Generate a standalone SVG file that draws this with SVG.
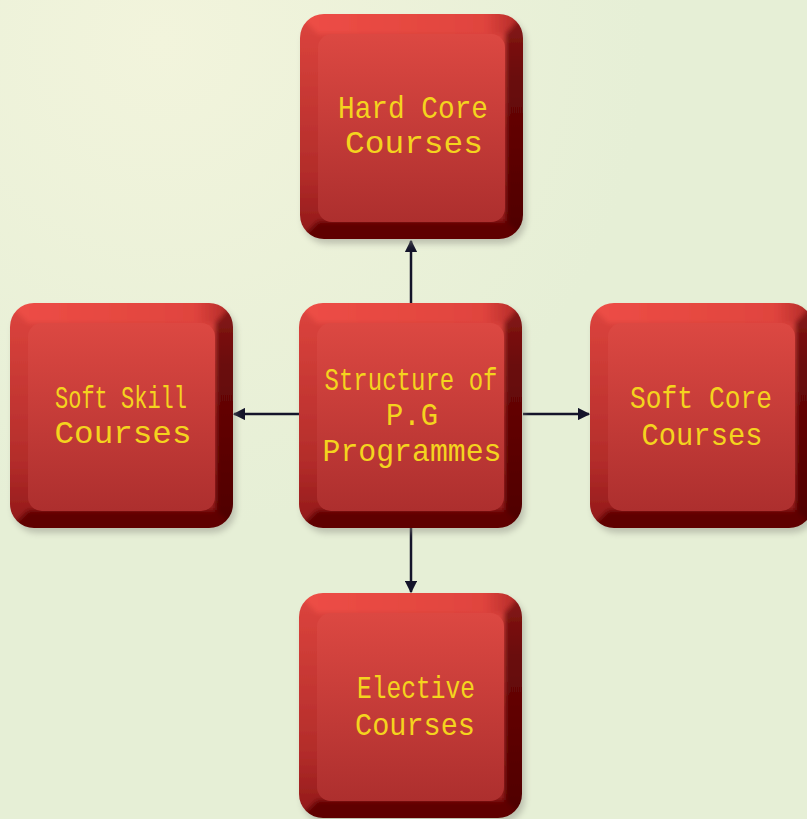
<svg xmlns="http://www.w3.org/2000/svg" xmlns:xlink="http://www.w3.org/1999/xlink" width="807" height="819" viewBox="0 0 807 819">
<style>
.lbl{font-family:"Liberation Mono","DejaVu Sans Mono",monospace;font-size:32px;fill:#f4d41e;text-anchor:middle}
.conn{stroke:#14142a;stroke-width:2.5;fill:none}
</style>
<defs>
<radialGradient id="bg" cx="0.2" cy="0.05" r="0.6">
<stop offset="0" stop-color="#f2f4dc"/>
<stop offset="1" stop-color="#e6efd6"/>
</radialGradient>
<linearGradient id="leftG" x1="0" y1="0" x2="0" y2="1">
<stop offset="0" stop-color="#e0463f"/>
<stop offset="0.7" stop-color="#b22c2a"/>
<stop offset="1" stop-color="#8a1414"/>
</linearGradient>
<linearGradient id="topG" x1="0" y1="0" x2="1" y2="0">
<stop offset="0" stop-color="#ee4e46"/>
<stop offset="0.8" stop-color="#e0443e"/>
<stop offset="1" stop-color="#a0201e"/>
</linearGradient>
<linearGradient id="rightG" x1="0" y1="0" x2="0" y2="1">
<stop offset="0" stop-color="#8c1c1a"/>
<stop offset="0.3" stop-color="#6a0808"/>
<stop offset="1" stop-color="#4c0000"/>
</linearGradient>
<linearGradient id="faceG" x1="0" y1="0" x2="0" y2="1">
<stop offset="0" stop-color="#dc4842"/>
<stop offset="1" stop-color="#ad2f2e"/>
</linearGradient>
<clipPath id="capClip"><rect x="0" y="0" width="223" height="225" rx="24"/></clipPath>
<filter id="soft" x="-10%" y="-10%" width="120%" height="120%"><feGaussianBlur stdDeviation="2.5"/></filter>
<filter id="shadow" x="-10%" y="-10%" width="130%" height="130%"><feGaussianBlur stdDeviation="3"/></filter>
<marker id="arr" viewBox="0 0 10 10" refX="9" refY="5" markerWidth="5" markerHeight="5" orient="auto" markerUnits="strokeWidth">
<path d="M0,0 L10,5 L0,10 z" fill="#14142a"/>
</marker>
<g id="cap">
<rect x="3" y="5" width="223" height="225" rx="24" fill="#8a8a80" opacity="0.45" filter="url(#shadow)"/>
<g clip-path="url(#capClip)">
<g filter="url(#soft)">
<rect x="-10" y="-10" width="245" height="245" fill="url(#leftG)"/>
<polygon points="-10,-10 233,-10 205,20 18,20" fill="url(#topG)"/>
<polygon points="233,-10 233,235 205,207 205,20" fill="url(#rightG)"/>
<polygon points="-10,235 233,235 205,207 18,207" fill="#5e0505"/>
</g>
</g>
<rect x="18" y="20" width="187" height="188" rx="14" fill="url(#faceG)"/>
</g>
</defs>
<rect width="807" height="819" fill="url(#bg)"/>
<g id="connectors">
<line class="conn" x1="411" y1="303" x2="411" y2="241" marker-end="url(#arr)"/>
<line class="conn" x1="411" y1="528" x2="411" y2="592" marker-end="url(#arr)"/>
<line class="conn" x1="299" y1="414" x2="234" y2="414" marker-end="url(#arr)"/>
<line class="conn" x1="523" y1="414" x2="589" y2="414" marker-end="url(#arr)"/>
</g>
<g id="hard-core">
<use xlink:href="#cap" x="300" y="14"/>
<text class="lbl" x="413" y="118" textLength="150" lengthAdjust="spacingAndGlyphs">Hard Core</text>
<text class="lbl" x="414" y="153" textLength="138" lengthAdjust="spacingAndGlyphs">Courses</text>
</g>
<g id="structure">
<use xlink:href="#cap" x="299" y="303"/>
<text class="lbl" x="411" y="390" textLength="173" lengthAdjust="spacingAndGlyphs">Structure of</text>
<text class="lbl" x="412" y="425" textLength="52" lengthAdjust="spacingAndGlyphs">P.G</text>
<text class="lbl" x="412" y="461" textLength="179" lengthAdjust="spacingAndGlyphs">Programmes</text>
</g>
<g id="soft-skill">
<use xlink:href="#cap" x="10" y="303"/>
<text class="lbl" x="121" y="408" textLength="132" lengthAdjust="spacingAndGlyphs">Soft Skill</text>
<text class="lbl" x="123" y="443" textLength="137" lengthAdjust="spacingAndGlyphs">Courses</text>
</g>
<g id="soft-core">
<use xlink:href="#cap" x="590" y="303"/>
<text class="lbl" x="701" y="408" textLength="142" lengthAdjust="spacingAndGlyphs">Soft Core</text>
<text class="lbl" x="702" y="445" textLength="121" lengthAdjust="spacingAndGlyphs">Courses</text>
</g>
<g id="elective">
<use xlink:href="#cap" x="299" y="593"/>
<text class="lbl" x="416" y="698" textLength="118" lengthAdjust="spacingAndGlyphs">Elective</text>
<text class="lbl" x="415" y="735" textLength="120" lengthAdjust="spacingAndGlyphs">Courses</text>
</g>
</svg>
